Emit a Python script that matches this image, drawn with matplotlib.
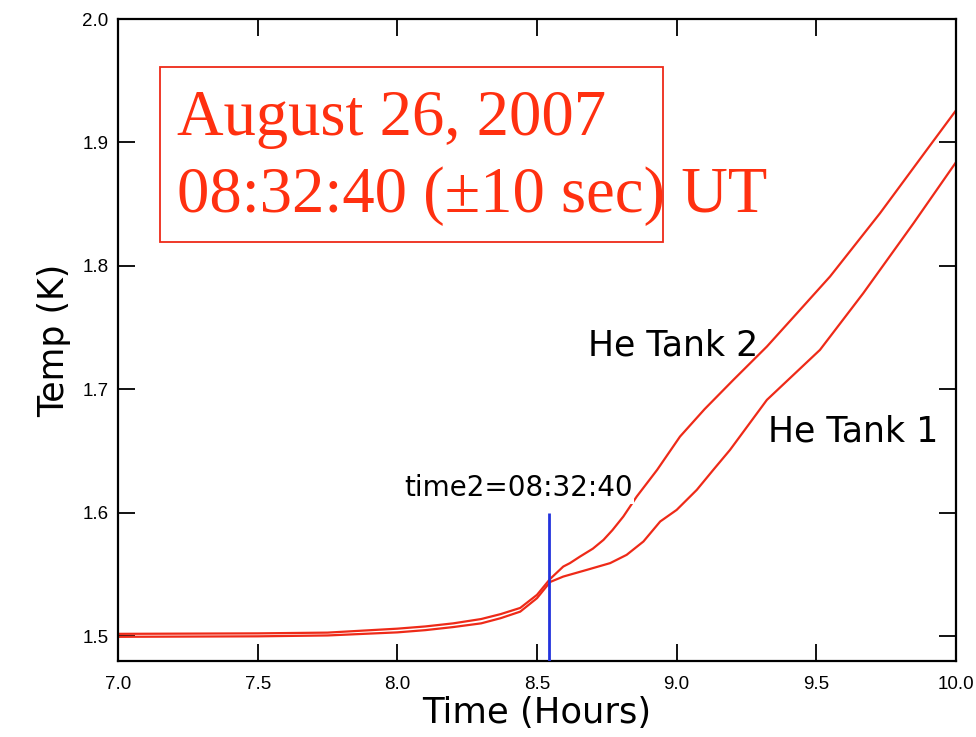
import matplotlib.pyplot as plt
from matplotlib.patches import Rectangle

# time axis (hours) and tank temperatures (K)
hours2 = [7.0, 7.25, 7.5, 7.75, 8.0, 8.1, 8.2, 8.3, 8.37, 8.44, 8.5, 8.547,
          8.594, 8.618, 8.654, 8.7, 8.738, 8.77, 8.809, 8.857, 8.93, 9.012,
          9.1, 9.203, 9.323, 9.43, 9.549, 9.728, 9.895, 10.0]
tank2 = [1.5020, 1.5022, 1.5024, 1.5030, 1.5062, 1.5080, 1.5105, 1.5140,
         1.5180, 1.5230, 1.5336, 1.5465, 1.5565, 1.5593, 1.5646, 1.5710,
         1.5781, 1.5860, 1.5970, 1.6132, 1.6348, 1.6618, 1.6840, 1.7077,
         1.7347, 1.7615, 1.7914, 1.8427, 1.8939, 1.9260]

hours1 = [7.0, 7.25, 7.5, 7.75, 8.0, 8.1, 8.2, 8.3, 8.37, 8.44, 8.5, 8.547,
          8.594, 8.678, 8.762, 8.821, 8.881, 8.941, 9.0, 9.072, 9.131, 9.191,
          9.323, 9.513, 9.668, 9.848, 10.0]
tank1 = [1.4996, 1.4998, 1.5000, 1.5007, 1.5032, 1.5050, 1.5075, 1.5105,
         1.5147, 1.5200, 1.5309, 1.5440, 1.5484, 1.5538, 1.5593, 1.5660,
         1.5768, 1.5930, 1.6024, 1.6186, 1.6348, 1.6510, 1.6915, 1.7320,
         1.7779, 1.8346, 1.8840]

event_time = 8.5444   # 08:32:40
event_top = 1.6

red = '#ee2a18'

fig = plt.figure(figsize=(9.76, 7.37), dpi=100)
ax = fig.add_axes([0.1209, 0.1031, 0.8586, 0.8711])

ax.plot(hours2, tank2, color=red, lw=1.6)
ax.plot(hours1, tank1, color=red, lw=1.6)
ax.vlines(event_time, 1.48, event_top, color='#2233dd', lw=2, zorder=3)

ax.set_xlim(7.0, 10.0)
ax.set_ylim(1.48, 2.0)
ax.set_xticks([7.0, 7.5, 8.0, 8.5, 9.0, 9.5, 10.0])
ax.set_yticks([1.5, 1.6, 1.7, 1.8, 1.9, 2.0])
ax.xaxis.set_major_formatter(plt.FormatStrFormatter('%.1f'))
ax.yaxis.set_major_formatter(plt.FormatStrFormatter('%.1f'))
ax.tick_params(direction='in', length=12, width=1.3, top=True, right=True,
               labelsize=13.5)
for lbl in ax.get_xticklabels() + ax.get_yticklabels():
    lbl.set_family('Liberation Sans')
ax.tick_params(axis='x', pad=11)
ax.tick_params(axis='y', pad=7)
for s in ax.spines.values():
    s.set_linewidth(1.6)

ax.set_xlabel('Time (Hours)', fontsize=25.5, labelpad=2)
ax.set_ylabel('Temp (K)', fontsize=25, labelpad=8)

ax.text(0.561, 0.492, 'He Tank 2', transform=ax.transAxes, fontsize=25,
        va='center', ha='left')
ax.text(0.776, 0.357, 'He Tank 1', transform=ax.transAxes, fontsize=25,
        va='center', ha='left')
ax.text(0.341, 0.269, 'time2=08:32:40', transform=ax.transAxes, fontsize=20,
        va='center', ha='left', zorder=4,
        bbox=dict(facecolor='white', edgecolor='none', pad=1))

ax.add_patch(Rectangle((0.0501, 0.6526), 0.5999, 0.2724, transform=ax.transAxes,
                       fill=False, edgecolor=red, lw=1.3, zorder=5))
ax.text(0.0704, 0.819, 'August 26, 2007', transform=ax.transAxes,
        family='Liberation Serif', fontsize=46.5, color='#ff3010', va='baseline')
ax.text(0.0704, 0.699, '08:32:40 (\u00b110 sec) UT', transform=ax.transAxes,
        family='Liberation Serif', fontsize=46.5, color='#ff3010', va='baseline')

fig.savefig('out.png', dpi=100)
